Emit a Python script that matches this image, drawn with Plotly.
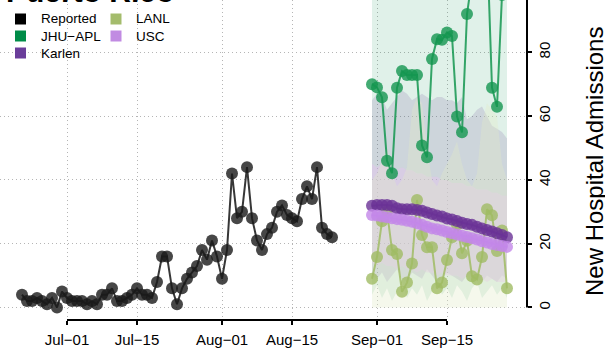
import plotly.graph_objects as go
import pandas as pd

# ---------------- data ----------------
reported_start = "2023-06-22"
reported = [4, 2, 2, 3, 2, 1, 3, 0, 5,
            3, 2, 2, 2, 1, 2, 1, 4, 4, 6,
            2, 2, 3, 4, 6, 4, 4, 3, 8, 16,
            16, 6, 1, 6, 9, 11, 13, 18, 15, 21, 16,
            9, 18, 42, 28, 30, 44, 28, 21, 18, 23,
            25, 30, 32, 29, 28, 27, 34, 38, 34, 44,
            25, 23, 22]

forecast_start = "2023-08-31"
jhu_apl = [70.0, 69.0, 65.9, 46.0, 42.1, 68.9, 74.1, 72.9, 72.9, 72.9,
           50.8, 47.1, 77.9, 84.1, 83.9, 86.2, 85.1, 59.9, 54.9, 92.0,
           103, 110, 120, 115, 68.9, 62.9, 98, 104]
karlen = [31.9, 32.1, 32.1, 32.1, 31.9, 31.1, 30.8, 30.8, 30.8, 30.6,
          30.3, 29.8, 29.3, 28.8, 28.5, 27.9, 27.6, 27.1, 26.6, 26.2,
          25.9, 25.3, 24.8, 24.3, 23.8, 23.3, 22.7, 22.0]
usc = [29.0, 28.8, 28.5, 28.3, 28.0, 27.7, 27.5, 27.2, 26.9, 26.4,
       25.9, 25.3, 24.8, 24.5, 24.1, 23.7, 23.3, 22.9, 22.5, 22.1,
       21.7, 21.3, 20.8, 20.4, 19.9, 19.6, 19.3, 19.0]
lanl = [9.0, 15.8, 27.0, 30.1, 18.0, 16.8, 4.9, 7.8, 13.8, 33.7,
        22.7, 18.9, 18.9, 6.0, 7.8, 14.9, 22.0, 25.9, 17.0, 20.9,
        9.8, 8.8, 15.8, 30.8, 28.9, 17.7, 24.1, 6.0]

# prediction intervals
jhu_lo = [4, 7, 3, 6, 2, 5, 8, 3, 6, 4, 7, 2, 5, 8, 4, 6, 3, 7, 5, 2, 6, 8, 3, 5, 7, 4, 6, 3]
jhu_hi = [140, 142, 139, 141, 143, 140, 138, 141, 142, 140, 139, 143, 141, 140, 142,
          139, 141, 140, 143, 142, 140, 141, 139, 142, 140, 141, 143, 140]
karlen_lo = [10, 9, 11, 8, 10, 12, 9, 8, 11, 10, 9, 12, 10, 8, 9, 11, 10, 9, 8, 10,
             11, 9, 8, 10, 9, 8, 10, 9]
karlen_hi = [65, 67, 66, 62, 64, 66, 68, 67, 65, 66, 67, 66, 65, 66, 66, 65, 65, 64,
             66, 59, 60, 62, 63, 60, 57, 56, 55, 53]
usc_lo = [14, 13, 14, 13, 13, 12, 13, 12, 12, 11, 12, 11, 11, 10, 11, 10, 10, 10, 9,
          10, 9, 9, 9, 8, 9, 8, 8, 8]
usc_hi = [45, 44, 45, 44, 44, 43, 44, 43, 43, 42, 42, 41, 41, 41, 40, 40, 39, 39, 39,
          38, 38, 37, 37, 37, 36, 36, 35, 35]
lanl_lo = [0, 0, 0, 0, 0, 0, 0, 0, 0, 0, 0, 0, 0, 0, 0, 0, 0, 0, 0, 0, 0, 0, 0, 0, 0, 0, 0, 0]
lanl_hi = [40, 42, 46, 50, 42, 38, 40, 44, 62, 66, 64, 50, 40, 38, 42, 45, 48, 52, 45,
           40, 38, 42, 58, 64, 62, 60, 45, 40]

x_tick_dates = ["2023-07-01", "2023-07-15", "2023-08-01", "2023-08-15", "2023-09-01", "2023-09-15"]
x_tick_labels = ["Jul\u221201", "Jul\u221215", "Aug\u221201", "Aug\u221215", "Sep\u221201", "Sep\u221215"]
y_ticks = [0, 20, 40, 60, 80, 100]
y_tick_labels = ["0", "20", "40", "60", "80", "100"]

series_names = ["Reported", "JHU\u2212APL", "Karlen", "LANL", "USC"]
series_colors = ["#000000", "#008C48", "#6A3D9A", "#A4BC6C", "#C18BE2"]

title_text = "Puerto Rico"
y_title = "New Hospital Admissions"

# ---------------- figure ----------------
rep_dates = pd.date_range(reported_start, periods=len(reported), freq="D")
fc_dates = pd.date_range(forecast_start, periods=len(karlen), freq="D")

x_range = [pd.Timestamp("2023-07-01") - pd.Timedelta(hours=13.4 * 24), pd.Timestamp("2023-10-01")]
y_range = [-3.92, 96.39]

W, H = 605, 360
ML, MR, MT, MB = 0, 78, 0, 40
PW, PH = W - ML - MR, H - MT - MB

fig = go.Figure()


def band(lo, hi, color):
    xs = list(fc_dates) + list(fc_dates[::-1])
    ys = list(hi) + list(lo[::-1])
    fig.add_trace(go.Scatter(x=xs, y=ys, fill="toself", fillcolor=color, mode="lines",
                             line=dict(width=0), hoverinfo="skip", showlegend=False))


band(jhu_lo, jhu_hi, "rgba(0,140,72,0.12)")
band(karlen_lo, karlen_hi, "rgba(106,70,150,0.16)")
band(usc_lo, usc_hi, "rgba(230,195,240,0.45)")
band(lanl_lo, lanl_hi, "rgba(225,235,200,0.35)")


def series(x, y, mcol, lcol):
    fig.add_trace(go.Scatter(x=x, y=y, mode="lines+markers",
                             line=dict(color=lcol, width=2),
                             marker=dict(color=mcol, size=12, line=dict(width=0)),
                             showlegend=False, cliponaxis=True))


series(rep_dates, reported, "rgba(25,25,25,0.8)", "rgba(20,20,20,0.85)")
series(fc_dates, jhu_apl, "rgba(20,150,80,0.8)", "rgba(20,150,80,0.85)")
series(fc_dates, lanl, "rgba(160,188,100,0.8)", "rgba(160,188,100,0.85)")
series(fc_dates, karlen, "rgba(106,50,150,0.8)", "rgba(106,50,150,0.85)")
series(fc_dates, usc, "rgba(195,135,232,0.8)", "rgba(195,135,232,0.85)")

font_family = "Liberation Sans, Arial, Helvetica, sans-serif"

fig.update_layout(
    width=W, height=H,
    margin=dict(l=ML, r=MR, t=MT, b=MB, pad=0, autoexpand=False),
    paper_bgcolor="white", plot_bgcolor="white",
    font=dict(family=font_family, color="black"),
    showlegend=False,
    xaxis=dict(type="date", range=x_range, tickvals=x_tick_dates, ticktext=x_tick_labels,
               ticks="outside", ticklen=4, tickwidth=2, tickcolor="black",
               tickfont=dict(size=15), showline=False, zeroline=False, automargin=False,
               ticklabelstandoff=2,
               showgrid=True, gridcolor="#b5b5b5", gridwidth=1, griddash="1px,3px"),
    yaxis=dict(range=y_range, side="right", tickvals=y_ticks, ticktext=y_tick_labels,
               tickangle=-90, ticks="outside", ticklen=4, tickwidth=2, tickcolor="black",
               tickfont=dict(size=15), showline=False, zeroline=False, automargin=False,
               showgrid=True, gridcolor="#b5b5b5", gridwidth=1, griddash="1px,3px"),
)


def ypaper(v):
    return (v - y_range[0]) / (y_range[1] - y_range[0])


shapes = []
# x axis line from first to last tick
shapes.append(dict(type="line", xref="x", yref="paper", x0=x_tick_dates[0], x1=x_tick_dates[-1],
                   y0=0, y1=0, line=dict(color="black", width=2)))
# y axis line from first tick upward
shapes.append(dict(type="line", xref="paper", yref="paper", x0=1, x1=1,
                   y0=ypaper(y_ticks[0]), y1=1.0, line=dict(color="black", width=2)))

annotations = []
# manual legend (two columns, column-major)
leg_col_x = [20.5, 116]
leg_row_y = [19, 36, 53]
sq = 11
for k, (name, col) in enumerate(zip(series_names, series_colors)):
    c, r = divmod(k, 3)
    cx, cy = leg_col_x[c], leg_row_y[r]
    shapes.append(dict(type="rect", xref="paper", yref="paper",
                       x0=(cx - sq / 2) / PW, x1=(cx + sq / 2) / PW,
                       y0=1 - (cy + sq / 2) / PH, y1=1 - (cy - sq / 2) / PH,
                       fillcolor=col, line=dict(width=0)))
    annotations.append(dict(text=name, xref="paper", yref="paper",
                            x=(cx + 18.5) / PW, y=1 - cy / PH, xanchor="left", yanchor="middle",
                            showarrow=False, font=dict(size=13.5, family=font_family)))

annotations.append(dict(text="<b>" + title_text + "</b>", xref="paper", yref="paper",
                        x=4 / PW, y=1, xanchor="left", yanchor="bottom", yshift=-10,
                        showarrow=False, font=dict(size=30, family=font_family)))
annotations.append(dict(text=y_title, xref="paper", yref="paper", x=1, y=0.5,
                        xanchor="center", yanchor="middle", xshift=67, yshift=-2,
                        textangle=-90, showarrow=False, font=dict(size=24, family=font_family)))

fig.update_layout(shapes=shapes, annotations=annotations)
fig.write_html("out.html", config={"displayModeBar": False},
               post_script="document.body.style.margin='0px';document.body.style.overflow='hidden';")
